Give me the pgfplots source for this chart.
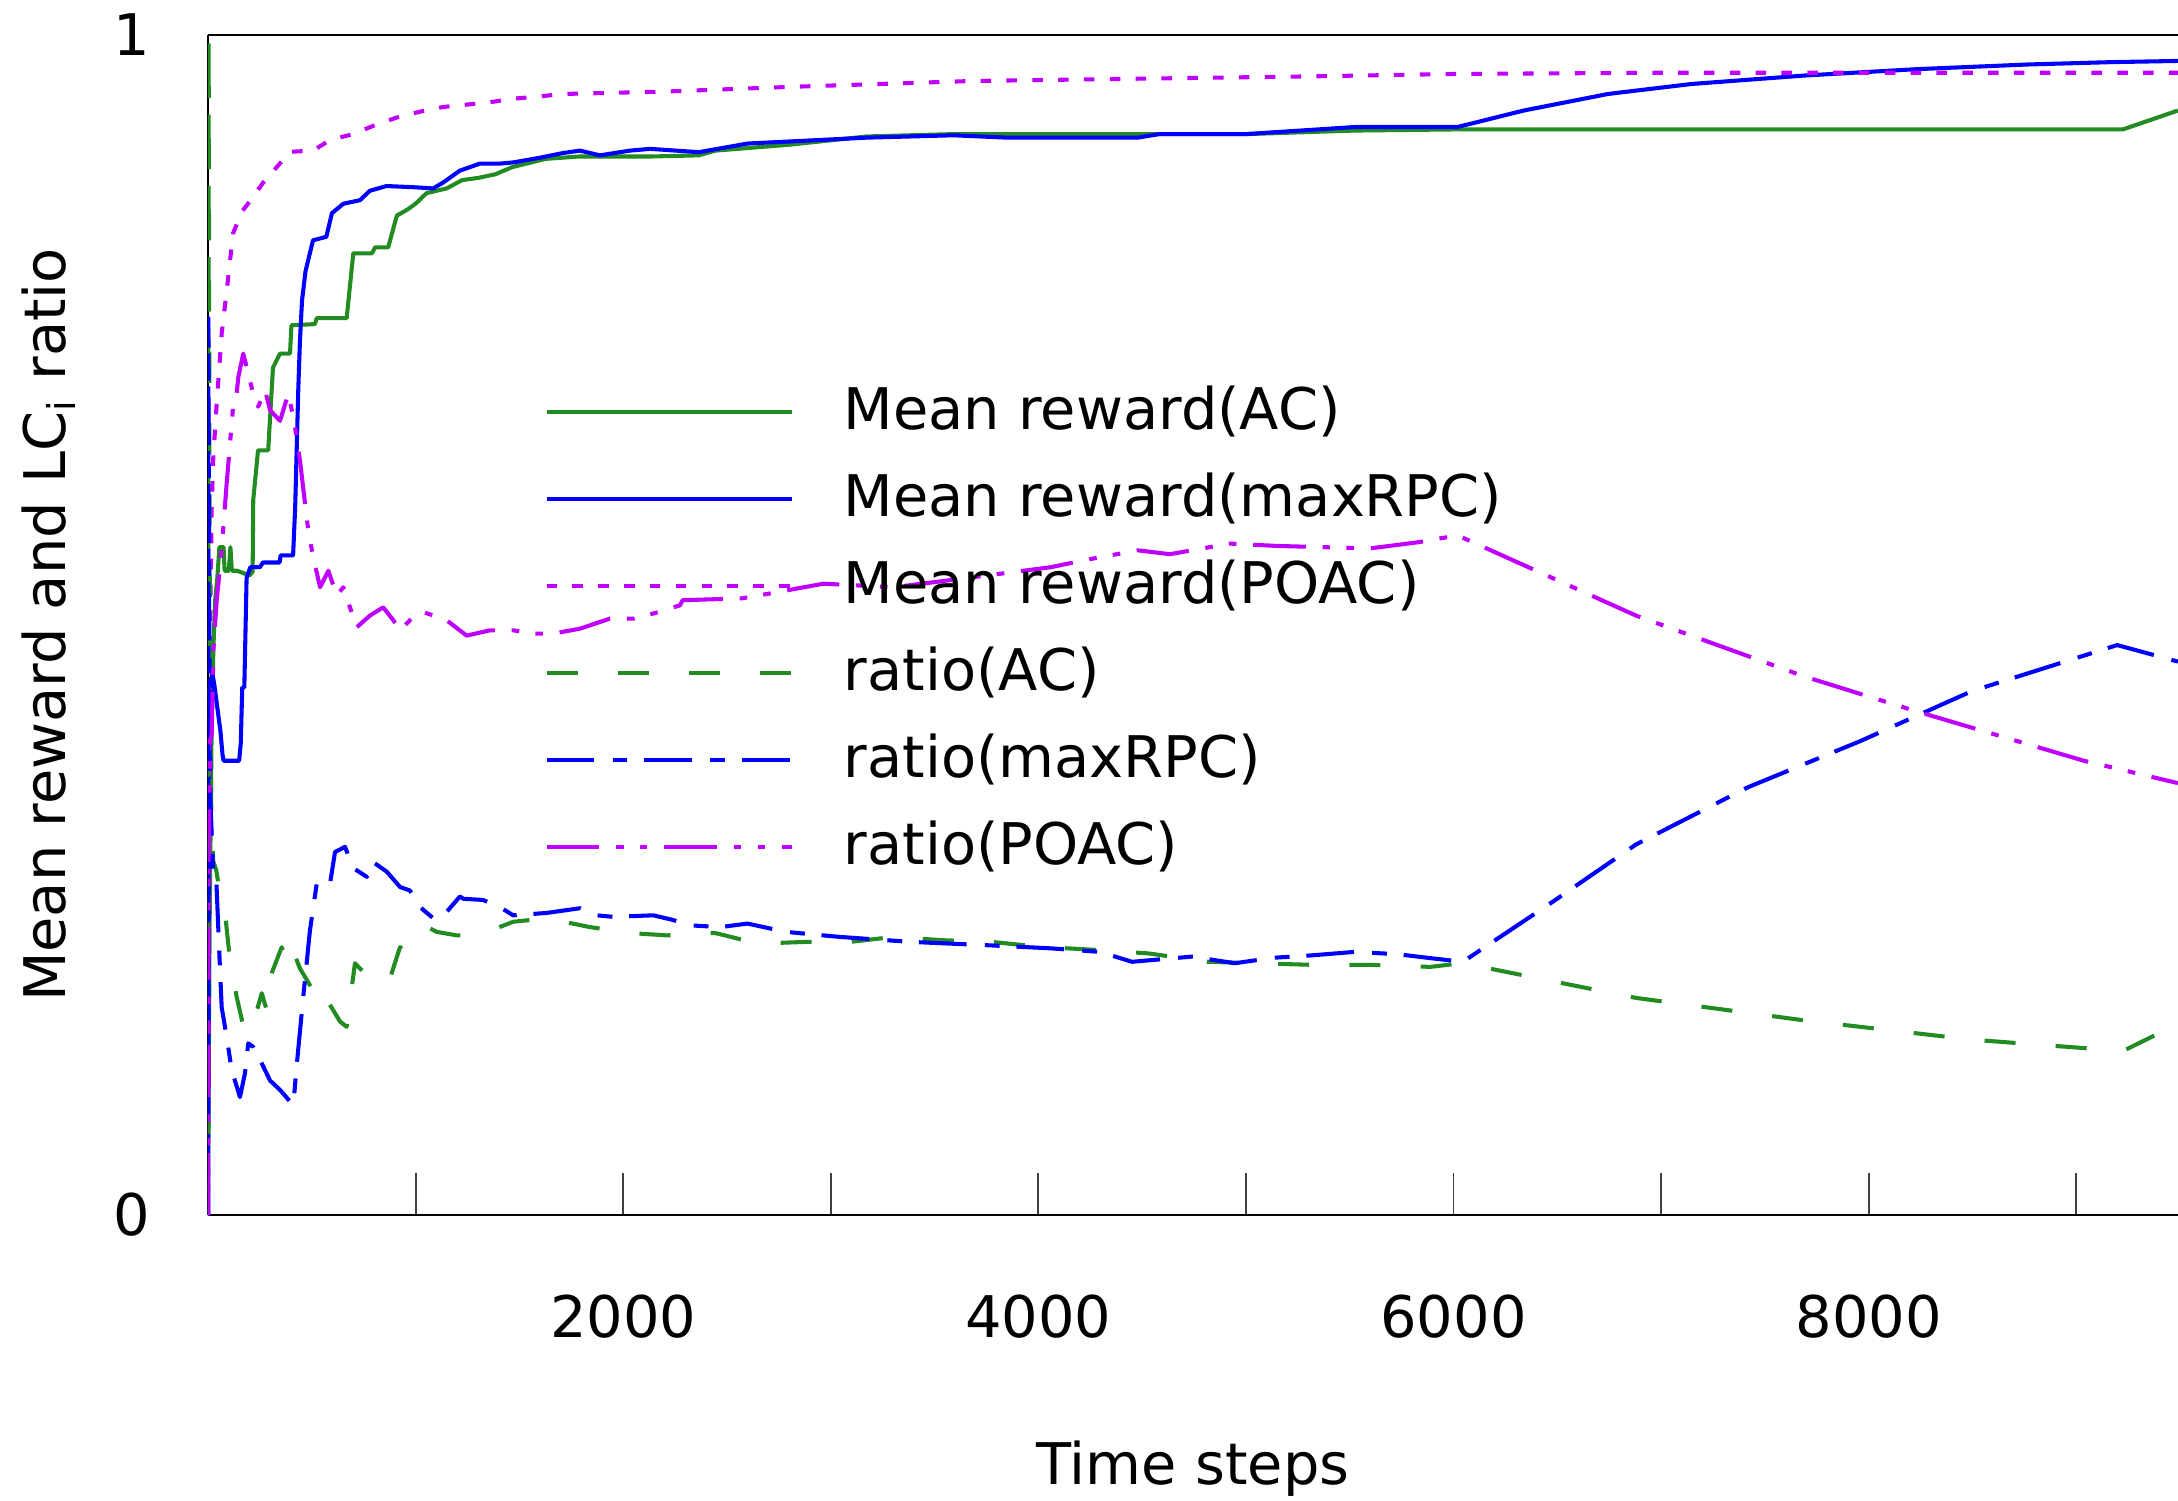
\documentclass[12pt,border=0pt]{standalone}
\usepackage{fontspec}
\setmainfont{DejaVu Sans}
\usepackage{pgfplots}
\pgfplotsset{compat=1.18}

\definecolor{cgreen}{HTML}{228B22}
\definecolor{cblue}{HTML}{0000FF}
\definecolor{cviolet}{HTML}{C000FF}

\begin{document}
\begin{tikzpicture}
\begin{axis}[
  name=ax,
  scale only axis,
  width=14.472cm, height=8.669cm,
  xmin=0, xmax=9490, ymin=0, ymax=1,
  axis lines=left, axis line style={-, black, line width=0.4pt},
  xtick={2000,4000,6000,8000},
  xticklabels={2000,4000,6000,8000},
  minor xtick={1000,3000,5000,7000,9000},
  tick align=inside,
  major tick length=0.306cm, minor tick length=0.306cm,
  x tick style={black!75, line width=0.4pt},
  ytick={0,1}, yticklabels={0,1},
  y tick style={draw=none},
  xticklabel style={anchor=center, yshift=-0.749cm},
  yticklabel style={anchor=center, xshift=-0.558cm},
  xlabel={Time steps},
  ylabel={Mean reward and LC\textsubscript{i} ratio},
  xlabel style={at={(axis description cs:0.5,0)}, anchor=center, yshift=-1.86cm},
  ylabel style={at={(axis description cs:0,0.5)}, anchor=center, yshift=1.171cm},
  every axis plot/.append style={no markers, line width=0.85pt, line join=round},
  legend image code/.code={\draw[#1] (0cm,0cm) -- (1.8cm,0cm);},
  legend cell align=left,
  legend style={at={(rel axis cs:0.1708,0.703)}, anchor=north west,
    draw=none, fill=none, inner sep=0pt, outer sep=0pt,
    nodes={inner sep=0pt}, column sep=0.37cm, row sep=7.3pt},
]
% Mean reward(AC)
\addplot[cgreen] coordinates {
(0,0) (8,0.25) (18,0.42) (26,0.48) (34,0.52) (45,0.54) (55,0.566) (75,0.566)
(80,0.546) (100,0.546) (108,0.566) (115,0.546) (140,0.546) (200,0.542) (215,0.545)
(218,0.606) (241,0.648) (290,0.648) (313,0.718) (347,0.730) (395,0.730) (402,0.754)
(515,0.755) (524,0.760) (668,0.760) (700,0.815) (790,0.815) (805,0.820) (868,0.820)
(910,0.847) (960,0.852) (1000,0.857) (1053,0.866) (1150,0.870) (1224,0.877)
(1305,0.879) (1385,0.882) (1465,0.888) (1626,0.895) (1787,0.897) (1947,0.897)
(2129,0.897) (2364,0.898) (2444,0.902) (2800,0.907) (3173,0.914) (3591,0.916)
(4479,0.916) (5000,0.916) (5523,0.919) (6020,0.920) (9225,0.920) (9490,0.936)
};
% Mean reward(maxRPC)
\addplot[cblue] coordinates {
(0,0) (5,0.35) (12,0.45) (20,0.46) (30,0.45) (45,0.43) (60,0.41) (70,0.39)
(75,0.385) (150,0.385) (158,0.40) (165,0.447) (175,0.447) (186,0.540) (204,0.549)
(250,0.549) (265,0.553) (345,0.553) (350,0.559) (410,0.559) (420,0.60) (435,0.70)
(443,0.741) (453,0.775) (470,0.80) (506,0.826) (570,0.829) (597,0.849) (652,0.857)
(732,0.860) (780,0.868) (860,0.872) (989,0.871) (1085,0.870) (1133,0.875)
(1213,0.885) (1310,0.891) (1406,0.891) (1470,0.892) (1599,0.896) (1711,0.900)
(1792,0.902) (1888,0.898) (2032,0.902) (2129,0.9035) (2364,0.9007) (2599,0.908)
(3173,0.913) (3591,0.915) (3851,0.913) (4479,0.913) (4583,0.916) (5000,0.916)
(5262,0.919) (5523,0.922) (6019,0.922) (6339,0.936) (6744,0.950) (7148,0.9585)
(7688,0.9656) (8227,0.971) (8767,0.975) (9171,0.977) (9490,0.978)
};
% Mean reward(POAC)
\addplot[cviolet, dash pattern=on 2.2pt off 3.2pt] coordinates {
(0,0) (4,0.35) (10,0.5) (18,0.6) (26,0.645) (34,0.665) (42,0.688) (66,0.747)
(90,0.783) (121,0.832) (162,0.850) (210,0.861) (266,0.875) (331,0.888) (395,0.901)
(506,0.902) (588,0.911) (699,0.916) (796,0.923) (909,0.930) (1021,0.935)
(1133,0.939) (1246,0.941) (1358,0.943) (1470,0.946) (1599,0.948) (1711,0.950)
(1952,0.951) (2193,0.952) (2800,0.956) (3679,0.961) (4500,0.963) (5341,0.965)
(6017,0.967) (7000,0.968) (9490,0.968)
};
% ratio(AC)
\addplot[cgreen, dash pattern=on 6.5pt off 8.4pt] coordinates {
(0,0) (3,1.0) (8,0.55) (15,0.35) (25,0.30) (40,0.292) (60,0.27) (82,0.256)
(106,0.216) (138,0.185) (178,0.154) (218,0.1625) (259,0.188) (283,0.1735)
(307,0.205) (355,0.227) (379,0.2146) (403,0.227) (443,0.209) (524,0.185)
(540,0.192) (636,0.164) (668,0.1595) (676,0.171) (708,0.2134) (748,0.206)
(829,0.199) (861,0.195) (877,0.2007) (925,0.227) (957,0.223) (1037,0.233)
(1069,0.243) (1101,0.240) (1198,0.237) (1230,0.237) (1342,0.2398) (1470,0.2485)
(1631,0.2515) (1840,0.244) (2033,0.239) (2209,0.237) (2443,0.239) (2650,0.230)
(2886,0.2315) (3095,0.2315) (3304,0.2357) (3539,0.2329) (3774,0.2315)
(4008,0.2273) (4297,0.2245) (4531,0.2217) (4817,0.2146) (5080,0.2132)
(5366,0.2118) (5602,0.212) (5889,0.2103) (6042,0.2135) (6879,0.184) (7688,0.165)
(8497,0.1486) (9225,0.139) (9490,0.162)
};
% ratio(maxRPC)
\addplot[cblue, dash pattern=on 10pt off 3.8pt on 3.1pt off 3.5pt] coordinates {
(0,0) (2,0.76) (6,0.5) (12,0.35) (25,0.29) (40,0.284) (55,0.22) (66,0.176)
(90,0.151) (114,0.123) (154,0.100) (178,0.120) (194,0.1455) (218,0.1425)
(259,0.1285) (299,0.114) (347,0.106) (411,0.093) (427,0.126) (459,0.185)
(491,0.241) (524,0.281) (588,0.281) (612,0.3077) (660,0.312) (700,0.294)
(765,0.2866) (796,0.299) (861,0.291) (925,0.278) (973,0.275) (1021,0.261)
(1085,0.2515) (1150,0.257) (1214,0.27) (1230,0.268) (1325,0.267) (1406,0.261)
(1470,0.254) (1631,0.256) (1792,0.260) (1872,0.254) (1952,0.2527) (2145,0.254)
(2241,0.25) (2312,0.2456) (2469,0.244) (2599,0.247) (2782,0.240) (3043,0.2357)
(3382,0.2315) (3748,0.2287) (4061,0.226) (4297,0.223) (4451,0.2146) (4740,0.219)
(4947,0.2134) (5130,0.218) (5313,0.220) (5523,0.223) (5732,0.221) (5889,0.2177)
(6045,0.2146) (6474,0.265) (6879,0.314) (7418,0.3625) (7958,0.4015) (8497,0.444)
(9197,0.483) (9490,0.469)
};
% ratio(POAC)
\addplot[cviolet, dash pattern=on 11pt off 3.5pt on 1.6pt off 3.4pt on 1.6pt off 3.5pt] coordinates {
(0,0) (3,0.3) (10,0.40) (18,0.408) (26,0.4786) (42,0.521) (58,0.549) (74,0.583)
(90,0.620) (122,0.6875) (138,0.696) (146,0.710) (170,0.730) (194,0.713)
(218,0.696) (242,0.685) (275,0.699) (299,0.682) (347,0.673) (387,0.696)
(411,0.676) (419,0.668) (443,0.6395) (483,0.580) (507,0.5576) (540,0.532)
(580,0.546) (620,0.525) (652,0.532) (716,0.498) (780,0.508) (844,0.515)
(893,0.504) (925,0.4955) (989,0.507) (1037,0.511) (1150,0.504) (1246,0.491)
(1358,0.4955) (1471,0.4955) (1567,0.4927) (1663,0.4927) (1792,0.4969)
(1936,0.5054) (2049,0.5054) (2145,0.5097) (2274,0.5167) (2286,0.521)
(2572,0.5226) (2703,0.5266) (2964,0.535) (3304,0.532) (3695,0.5407) (4061,0.549)
(4218,0.5548) (4479,0.5633) (4634,0.560) (4923,0.569) (5150,0.567) (5366,0.566)
(5602,0.565) (5836,0.5703) (6019,0.576) (6879,0.508) (7688,0.4565) (8227,0.427)
(9036,0.385) (9490,0.366)
};
\legend{Mean reward(AC), Mean reward(maxRPC), Mean reward(POAC), ratio(AC), ratio(maxRPC), ratio(POAC)}
\end{axis}
\draw[black, line width=0.4pt] (ax.north west) -- (ax.north east);
\pgfresetboundingbox
\path ([xshift=-1.528cm,yshift=-2.094cm]ax.south west) rectangle ([yshift=0.257cm]ax.north east);
\end{tikzpicture}
\end{document}
